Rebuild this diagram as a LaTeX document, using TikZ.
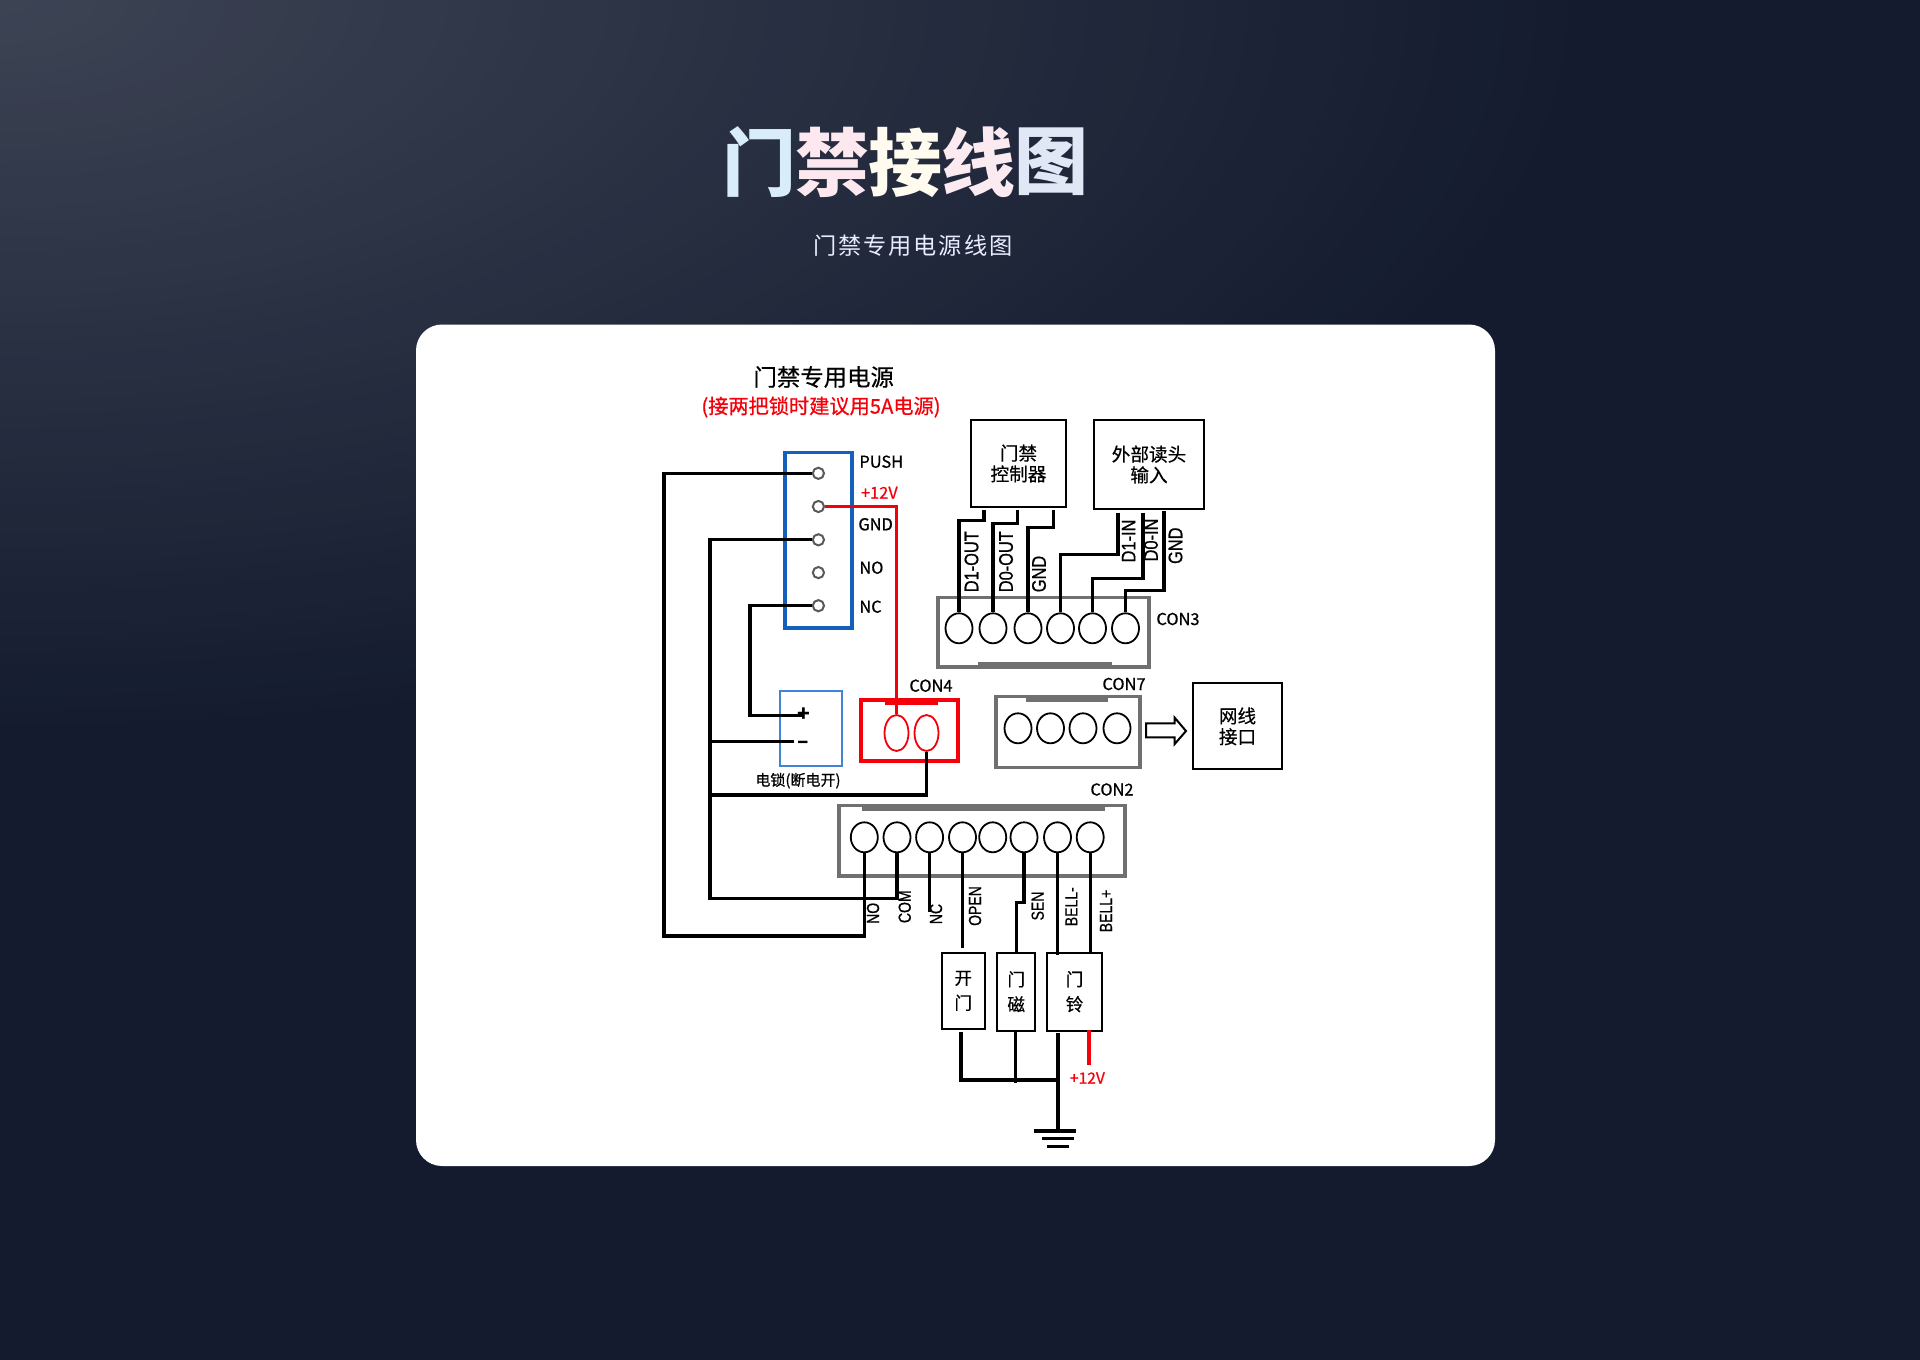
\documentclass[tikz,border=0pt]{standalone}
\usepackage{fontspec}
\usepackage{graphicx}
\usetikzlibrary{shapes.geometric}
\setmainfont{Noto Sans CJK SC}
\newfontfamily\lblfont[FakeBold=0.7]{Noto Sans CJK SC}
\newfontfamily\boxfont[FakeBold=0.5]{Noto Sans CJK SC}
\newfontfamily\rotfont[FakeBold=0.7]{Liberation Sans}
\newfontfamily\spacedfont[LetterSpace=8]{Noto Sans CJK SC}
\definecolor{bgbase}{HTML}{141B2F}
\definecolor{bgtop}{HTML}{3D4454}
\definecolor{graybox}{HTML}{707070}
\definecolor{bluebox}{HTML}{1560BD}
\definecolor{lockblue}{HTML}{3F84D6}
\definecolor{redwire}{HTML}{F5000A}
\tikzset{
  x=0.5pt,y=-0.5pt,
  wire/.style={draw=black,line width=1.6pt},
  redw/.style={draw=redwire,line width=1.8pt},
  con/.style={rectangle,draw=graybox,line width=1.6pt,fill=none,inner sep=0pt},
  conred/.style={rectangle,draw=redwire,line width=1.7pt,inner sep=0pt},
  plain/.style={rectangle,draw=black,line width=1pt,inner sep=0pt,align=center,font=\fontsize{9.3}{10.4}\boxfont},
  term/.style={ellipse,draw=black,line width=0.9pt,minimum width=13.5pt,minimum height=15pt,inner sep=0pt},
  termred/.style={term,draw=redwire,minimum width=12pt,minimum height=18pt},
  pin/.style={circle,draw=gray!70!black,line width=1pt,minimum size=5.6pt,inner sep=0pt},
  lbl/.style={inner sep=0pt,font=\fontsize{8.2}{10}\lblfont},
  lblw/.style={lbl,anchor=west},
  rlbl/.style={inner sep=0pt,rotate=90,font=\fontsize{8.2}{10}\rotfont},
  rlbs/.style={inner sep=0pt,rotate=90,font=\fontsize{7}{10}\rotfont},
  titlech/.style={inner sep=0pt,font=\fontsize{37}{40}\selectfont\bfseries},
  gndbar/.style={draw=black,line width=1.6pt}
}
\newcommand{\rbox}[7]{\node[#5,minimum width={(#3-#1)*0.5pt},minimum height={(#4-#2)*0.5pt}] (#6) at ({(#1+#3)/2},{(#2+#4)/2}) {#7};}
\begin{document}
\begin{tikzpicture}
\useasboundingbox (0,0) rectangle (1920,1359);
% background: soft glow from the top-left corner
\begin{scope}
\clip (-6,-6) rectangle (1926,1365);
\fill[bgbase] (-6,-6) rectangle (1926,1365);
\foreach \s in {100,98,...,2}{
  \pgfmathtruncatemacro\mixv{\s}
  \fill[bgbase!\mixv!bgtop] (0,0) ellipse [x radius={16*\s},y radius={7.4*\s}];
}
\end{scope}
% title
\node[titlech,text=white] (t1) at (759,162) {\textcolor[HTML]{D8ECFA}{门}};
\node[titlech] (t2) at (832,162) {\textcolor[HTML]{FDE8F0}{禁}};
\node[titlech] (t3) at (905,162) {\textcolor[HTML]{FFFBEE}{接}};
\node[titlech] (t4) at (978,162) {\textcolor[HTML]{FBEAF0}{线}};
\node[titlech] (t5) at (1051,162) {\textcolor[HTML]{E0E8F6}{图}};
\node[inner sep=0pt,text=white!92!blue,font=\fontsize{11.6}{14}\spacedfont] (subt) at (913,246) {门禁专用电源线图};
% card
\fill[white,rounded corners=13pt] (416,324.5) rectangle (1495,1166);
% headings
\node[inner sep=0pt,font=\fontsize{11.7}{14}\boxfont] (head1) at (823.7,377) {门禁专用电源};
\node[inner sep=0pt,text=redwire,font=\fontsize{10.1}{12}\lblfont] (head2) at (821,407) {(接两把锁时建议用5A电源)};
% blue power box and its pins
\rbox{785}{452.3}{852}{627.7}{rectangle,draw=bluebox,line width=1.8pt}{pbox}{}
\node[pin] (p1) at (818.4,473.3) {};
\node[pin] (p2) at (818.4,506.5) {};
\node[pin] (p3) at (818.4,539.8) {};
\node[pin] (p4) at (818.4,572.6) {};
\node[pin] (p5) at (818.4,605.7) {};
\node[lblw] (lpush) at (859,461.7) {PUSH};
\node[lblw,text=redwire] (l12) at (860.6,492.7) {+12V};
\node[lblw] (lgnd) at (858,524.3) {GND};
\node[lblw] (lno) at (859,567.7) {NO};
\node[lblw] (lnc) at (859,606.7) {NC};
% lock
\rbox{780}{691.3}{842}{766.3}{rectangle,draw=lockblue,line width=0.9pt}{lock}{}
\node[inner sep=0pt,font=\fontsize{10.5}{12}\selectfont\bfseries] (plus) at (804,714.5) {+};
\node[inner sep=0pt,font=\fontsize{10.5}{12}\selectfont\bfseries] (minus) at (803,745) {–};
\node[lbl,font=\fontsize{7.5}{9}\lblfont] (llock) at (798,780.7) {电锁(断电开)};
% CON4
\rbox{861}{700}{958}{761}{conred}{con4}{}
\fill[redwire] (885,700) rectangle (938,705);
\node[termred] (r1) at (896.5,733) {};
\node[termred] (r2) at (926.5,733) {};
\node[lbl] (lc4) at (931,685.7) {CON4};
% controller and reader
\rbox{971}{420.3}{1066}{506.7}{plain}{ctl}{门禁\\控制器}
\rbox{1094}{420.3}{1204}{508.7}{plain}{rdr}{外部读头\\输入}
% CON3
\rbox{938}{597.7}{1149}{667}{con}{con3}{}
\fill[graybox] (977.5,662) rectangle (1111.5,667);
\node[term] (a1) at (959,628.3) {};
\node[term] (a2) at (993,628.3) {};
\node[term] (a3) at (1028,628.3) {};
\node[term] (a4) at (1060.5,628.3) {};
\node[term] (a5) at (1092.5,628.3) {};
\node[term] (a6) at (1125.5,628.3) {};
\node[lbl] (lc3) at (1178,619) {CON3};
% CON7
\rbox{996}{696.7}{1140}{767.3}{con}{con7}{}
\fill[graybox] (1026,697) rectangle (1108,701.5);
\node[term] (b1) at (1018,728.3) {};
\node[term] (b2) at (1050.5,728.3) {};
\node[term] (b3) at (1083,728.3) {};
\node[term] (b4) at (1117,728.3) {};
\node[lbl] (lc7) at (1124,684) {CON7};
% arrow
\draw[black,line width=1pt,line join=miter] (1146,723.3) -- (1174.7,723.3) -- (1174.7,717.7) -- (1186,731) -- (1174.7,744) -- (1174.7,737.3) -- (1146,737.3) -- cycle;
\rbox{1193}{683.3}{1282}{769.3}{plain}{net}{网线\\接口}
% CON2
\rbox{839}{805.7}{1125}{876}{con}{con2}{}
\fill[graybox] (862,806) rectangle (1105,810.5);
\node[term] (c1) at (864.3,837.3) {};
\node[term] (c2) at (897,837.3) {};
\node[term] (c3) at (929.6,837.3) {};
\node[term] (c4) at (962.5,837.3) {};
\node[term] (c5) at (992.7,837.3) {};
\node[term] (c6) at (1024,837.3) {};
\node[term] (c7) at (1057.5,837.3) {};
\node[term] (c8) at (1090.2,837.3) {};
\node[lbl] (lc2) at (1112,789.5) {CON2};
% devices
\rbox{941.8}{952.5}{984.7}{1029.2}{plain,font=\fontsize{8.8}{12.5}\boxfont}{dopen}{开\\门}
\rbox{997.3}{952.5}{1035.2}{1030.8}{plain,font=\fontsize{8.8}{12.5}\boxfont}{dmag}{门\\磁}
\rbox{1047.4}{952.5}{1101.7}{1030.8}{plain,font=\fontsize{8.8}{12.5}\boxfont}{dbell}{门\\铃}
% rotated labels
\node[rlbl] (o1) at (971.5,561.7) {\scalebox{1}[1.2]{D1-OUT}};
\node[rlbl] (o2) at (1006,561.7) {\scalebox{1}[1.2]{D0-OUT}};
\node[rlbl] (o3) at (1039,574) {\scalebox{1}[1.2]{GND}};
\node[rlbl] (o4) at (1128.6,541) {\scalebox{1}[1.2]{D1-IN}};
\node[rlbl] (o5) at (1151,540) {\scalebox{1}[1.2]{D0-IN}};
\node[rlbl] (o6) at (1175.5,545.7) {\scalebox{1}[1.2]{GND}};
\node[rlbs] (n1) at (873,913.3) {\scalebox{1}[1.25]{NO}};
\node[rlbs] (n2) at (904.7,906.7) {\scalebox{1}[1.25]{COM}};
\node[rlbs] (n3) at (936,914) {\scalebox{1}[1.25]{NC}};
\node[rlbs] (n4) at (975,906) {\scalebox{1}[1.25]{OPEN}};
\node[rlbs] (n5) at (1037.7,906) {\scalebox{1}[1.25]{SEN}};
\node[rlbs] (n6) at (1071.4,906.7) {\scalebox{1}[1.25]{BELL-}};
\node[rlbs] (n7) at (1106,911) {\scalebox{1}[1.25]{BELL+}};
\node[lbl,font=\fontsize{7.8}{9}\lblfont,text=redwire] (l12b) at (1087.4,1078) {+12V};
% coordinates for wire ends
\coordinate (railA) at (664,936);
\coordinate (railB) at (710,898.5);
\coordinate (railC) at (710,795);
\coordinate (railD) at (710,741.5);
\coordinate (minusIn) at (794,741.5);
\coordinate (railE) at (750,715.5);
\coordinate (plusIn) at (803,715.5);
\coordinate (ctlA) at (984,510);
\coordinate (ctlB) at (1017.5,510);
\coordinate (ctlC) at (1053.5,510);
\coordinate (rdrA) at (1118,512.7);
\coordinate (rdrB) at (1143,512.7);
\coordinate (rdrC) at (1164,511.3);
\coordinate (kA) at (959,520.7);
\coordinate (kB) at (993,523.7);
\coordinate (kC) at (1028,527.3);
\coordinate (kD) at (1060.5,554.3);
\coordinate (kE) at (1092.5,578.7);
\coordinate (kF) at (1125.5,590.3);
\coordinate (ncEnd) at (929.6,911.7);
\coordinate (openEnd) at (962.5,948.3);
\coordinate (senJog) at (1024,902.7);
\coordinate (bellA) at (1057.5,955);
\coordinate (bellB) at (1090.2,952);
\coordinate (lowA) at (961,1031.7);
\coordinate (lowB) at (1015.8,1030.3);
\coordinate (lowBe) at (1015.8,1082.7);
\coordinate (lowC) at (1058,1033.3);
\coordinate (bus) at (1058,1080);
\coordinate (gnd) at (1058,1131);
\coordinate (plusR) at (1089,1029.8);
\coordinate (plusE) at (1089,1065);
% wires
\draw[wire] (p1.west) -| (railA) -| (c1.south);
\draw[wire] (p3.west) -| (railB) -| (c2.south);
\draw[wire] (railC) -| (r2.south);
\draw[wire] (railD) -- (minusIn);
\draw[wire] (p5.west) -| (railE) -- (plusIn);
\draw[redw] (p2.east) -| (r1.north);
\draw[wire] (ctlA) |- (kA) -- (a1.north);
\draw[wire] (ctlB) |- (kB) -- (a2.north);
\draw[wire] (ctlC) |- (kC) -- (a3.north);
\draw[wire] (rdrA) |- (kD) -- (a4.north);
\draw[wire] (rdrB) |- (kE) -- (a5.north);
\draw[wire] (rdrC) |- (kF) -- (a6.north);
\draw[wire] (c3.south) -- (ncEnd);
\draw[wire] (c4.south) -- (openEnd);
\draw[wire] (c6.south) -- (senJog) -| (dmag.north);
\draw[wire] (c7.south) -- (bellA);
\draw[wire] (c8.south) -- (bellB);
\draw[wire] (lowA) |- (bus);
\draw[wire] (lowB) -- (lowBe);
\draw[wire] (lowC) -- (gnd);
\draw[redw] (plusR) -- (plusE);
% ground symbol
\draw[gndbar] ([xshift=-12pt]gnd) -- ([xshift=9pt]gnd);
\draw[gndbar] (1042,1138.8) -- (1073.5,1138.8);
\draw[gndbar] (1047.4,1146.5) -- (1069.3,1146.5);
\end{tikzpicture}
\end{document}
